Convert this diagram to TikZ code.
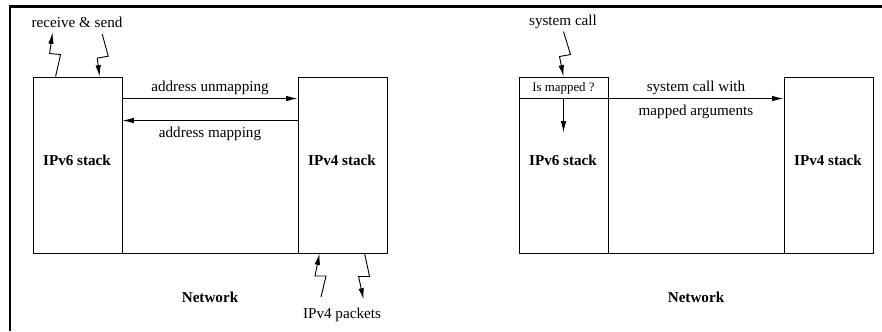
\documentclass[tikz,border=0pt]{standalone}
\usepackage{fontspec}
\setmainfont{Liberation Serif}
\usetikzlibrary{arrows.meta,calc}
\tikzset{
        % Stack boxes
        stackbox/.style={draw, rectangle, line width=0.6pt, minimum width=58.7pt, minimum height=116.2pt, inner sep=0pt},
        % Bold labels
        boldlabel/.style={font=\fontsize{10}{12}\selectfont\bfseries, inner sep=1pt},
        % Plain labels
        plainlabel/.style={font=\fontsize{10}{12}\selectfont, inner sep=1pt},
        % Small labels
        smalllabel/.style={font=\fontsize{8.5}{10}\selectfont, inner sep=1pt},
        % Connectors
        conn/.style={line width=0.6pt, -{Latex[length=7.5pt,width=3.6pt]}},
        % Outer frame
        frameline/.style={line width=1.9pt}
}
\begin{document}
\begin{tikzpicture}[x=0.66pt, y=-0.66pt]
            \useasboundingbox (0,0) rectangle (882,331);
            \draw[frameline] (882,6.5) -- (10,6.5) -- (10,331);

            % left: address mapping
            \node[stackbox] (l6) at (77.5,165) {};
            \node[stackbox] (l4) at (342.5,165) {};
            \node[boldlabel] (l6txt) at (77,160) {IPv6 stack};
            \node[boldlabel] (l4txt) at (342,160) {IPv4 stack};
            \draw[line width=0.6pt] (l6.south east) -- (l4.south west);
            \draw[conn] ($(l6.north east)+(0,22)$) -- ($(l4.north west)+(0,22)$)
                node[plainlabel, midway, above=1pt] {address unmapping};
            \draw[conn] ($(l4.north west)+(0,44)$) -- ($(l6.north east)+(0,44)$)
                node[plainlabel, midway, below=3pt] {address mapping};
            \node[plainlabel] (rs) at (77,22) {receive \& send};
            \draw[conn] ($(l6.north west)+(23,0)$) -- ++(5,-22) -- ++(-11,-1) -- ++(3,-21);
            \draw[conn] ($(rs.south east)+(-22,5)$) -- ++(6,22) -- ++(-11,2) -- ($(l6.north west)+(67,0)$);
            \node[boldlabel] (lnet) at (210,297) {Network};
            \node[plainlabel] (pk) at (342,315) {IPv4 packets};
            \draw[conn] (321,297) -- ++(5,-21) -- ++(-11,0) -- ($(l4.south west)+(22,0)$);
            \draw[conn] ($(l4.south west)+(67,0)$) -- ++(5,23) -- ++(-11,0) -- ++(5,23);

            % right: system call
            \node[stackbox] (r6) at (563.5,165) {};
            \node[stackbox] (r4) at (828.5,165) {};
            \node[boldlabel] (r6txt) at (563,160) {IPv6 stack};
            \node[boldlabel] (r4txt) at (828,160) {IPv4 stack};
            \draw[line width=0.6pt] (r6.south east) -- (r4.south west);
            \draw[line width=0.6pt] ($(r6.north west)+(0,22)$) -- ($(r6.north east)+(0,22)$);
            \node[smalllabel] (ism) at (563.5,88) {Is mapped ?};
            \draw[conn] ($(r6.north east)+(0,22)$) -- ($(r4.north west)+(0,22)$)
                node[plainlabel, midway, above=1pt] {system call with}
                node[plainlabel, midway, below=3pt] {mapped arguments};
            \draw[conn] ($(r6.north)+(0,22)$) -- ($(r6.north)+(0,56)$);
            \node[plainlabel] (sc) at (563,22) {system call};
            \draw[conn] ($(r6.north)+(0,-45)$) -- ++(7,23) -- ++(-11,2) -- (r6.north);
            \node[boldlabel] (rnet) at (696,297) {Network};
\end{tikzpicture}
\end{document}
